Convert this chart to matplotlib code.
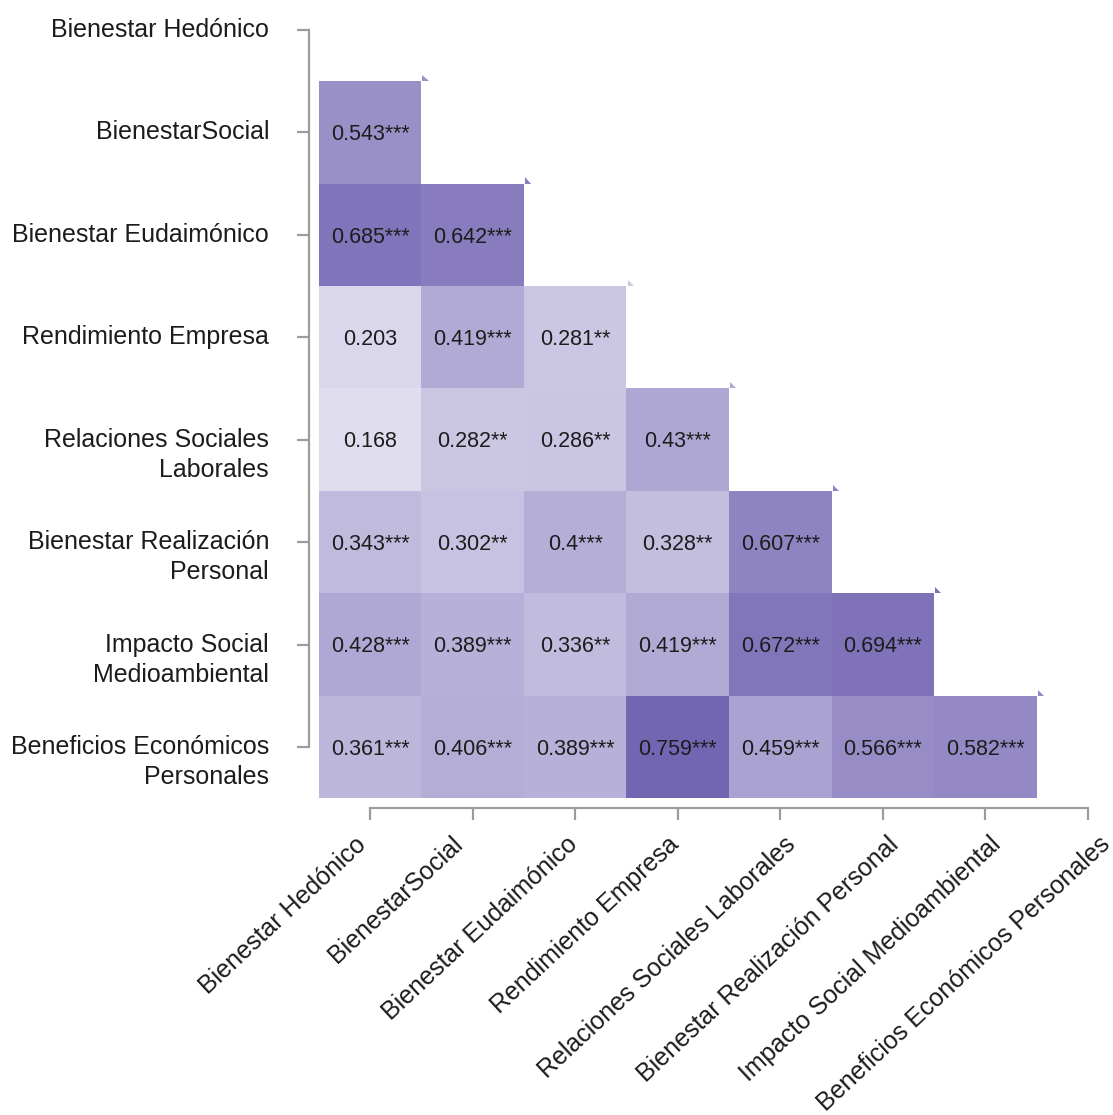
import numpy as np
import matplotlib
matplotlib.use("Agg")
import matplotlib.pyplot as plt
from matplotlib.colors import LinearSegmentedColormap
from matplotlib.transforms import ScaledTranslation
from matplotlib.patches import Polygon

# Variables (same order on both axes)
variables = [
    "Bienestar Hedónico",
    "BienestarSocial",
    "Bienestar Eudaimónico",
    "Rendimiento Empresa",
    "Relaciones Sociales Laborales",
    "Bienestar Realización Personal",
    "Impacto Social Medioambiental",
    "Beneficios Económicos Personales",
]

# Row labels as displayed on the y axis (wrapped)
row_label_lines = [
    ["Bienestar Hedónico"],
    ["BienestarSocial"],
    ["Bienestar Eudaimónico"],
    ["Rendimiento Empresa"],
    ["Relaciones Sociales", "Laborales"],
    ["Bienestar Realización", "Personal"],
    ["Impacto Social", "Medioambiental"],
    ["Beneficios Económicos", "Personales"],
]

# Lower-triangle correlations, row by row
corr_rows = [
    [],
    [0.543],
    [0.685, 0.642],
    [0.203, 0.419, 0.281],
    [0.168, 0.282, 0.286, 0.43],
    [0.343, 0.302, 0.4, 0.328, 0.607],
    [0.428, 0.389, 0.336, 0.419, 0.672, 0.694],
    [0.361, 0.406, 0.389, 0.759, 0.459, 0.566, 0.582],
]

# Significance marks for each correlation
stars_rows = [
    [],
    ["***"],
    ["***", "***"],
    ["", "***", "**"],
    ["", "**", "**", "***"],
    ["***", "**", "***", "**", "***"],
    ["***", "***", "**", "***", "***", "***"],
    ["***", "***", "***", "***", "***", "***", "***"],
]

FONT = "Liberation Sans"
LABEL_SIZE = 18.0
CELL_SIZE = 15.5
TEXT_COLOR = "#1c1c1c"
AXIS_COLOR = "#9c9c9c"
DPI = 100

n = len(variables)
matrix = np.full((n, n), np.nan)
for i, row in enumerate(corr_rows):
    for j, v in enumerate(row):
        matrix[i, j] = v

cmap = LinearSegmentedColormap.from_list("purples", ["#ffffff", (70/255, 52/255, 154/255)])

fig = plt.figure(figsize=(11.13, 11.15), dpi=DPI)
ax = fig.add_axes([0.2772, 0.2749, 0.7188, 0.7212])

edges = np.arange(n + 1) - 0.5
ax.pcolormesh(edges, edges, np.ma.masked_invalid(matrix), cmap=cmap,
              vmin=0, vmax=1, shading="flat", edgecolors="none")

ax.set_xlim(-0.6, 7.2)
ax.set_ylim(7.6, -0.25)

# small corner markers on the diagonal cells
for i in range(1, n):
    j = i - 1
    x0, y0 = j + 0.5 + 0.01, i - 0.5
    s = 0.06
    tri = Polygon([(x0, y0 - s), (x0, y0), (x0 + s, y0)], closed=True,
                  facecolor=cmap(matrix[i, j]), edgecolor="none")
    ax.add_patch(tri)

# cell annotations
to_px = lambda dx, dy: ScaledTranslation(dx / DPI, dy / DPI, fig.dpi_scale_trans)
for i, row in enumerate(corr_rows):
    for j, v in enumerate(row):
        ax.text(j, i, f"{v:g}{stars_rows[i][j]}", ha="center", va="baseline",
                fontsize=CELL_SIZE, family=FONT, color=TEXT_COLOR,
                transform=ax.transData + to_px(0, -7.7))

# axes frame: range-limited left and bottom spines
for side in ("top", "right"):
    ax.spines[side].set_visible(False)
for side in ("left", "bottom"):
    ax.spines[side].set_bounds(0, n - 1)
    ax.spines[side].set_color(AXIS_COLOR)
    ax.spines[side].set_linewidth(1.6)
ax.set_xticks(range(n))
ax.set_yticks(range(n))
ax.tick_params(length=8.6, width=1.6, color=AXIS_COLOR,
               labelleft=False, labelbottom=False)

# y labels
for i, lines in enumerate(row_label_lines):
    for k, line in enumerate(lines):
        ax.text(0, i, line, ha="right", va="baseline", fontsize=LABEL_SIZE,
                family=FONT, color=TEXT_COLOR,
                transform=ax.get_yaxis_transform() + to_px(-39.5, -(7 + 30 * k)))

# x labels, rotated; longer labels sit a little further right of their tick
renderer = fig.canvas.get_renderer()
for j, name in enumerate(variables):
    probe = fig.text(0, 0, name, fontsize=LABEL_SIZE, family=FONT)
    w = probe.get_window_extent(renderer).width
    probe.remove()
    dx = -35 + 0.15 * w
    dy = -(846 - 808.5)
    ax.text(j, 0, name, rotation=43, rotation_mode="anchor", ha="right",
            va="baseline", fontsize=LABEL_SIZE, family=FONT, color=TEXT_COLOR,
            transform=ax.get_xaxis_transform() + to_px(dx, dy))

fig.savefig("out.png", dpi=DPI, facecolor="white")
